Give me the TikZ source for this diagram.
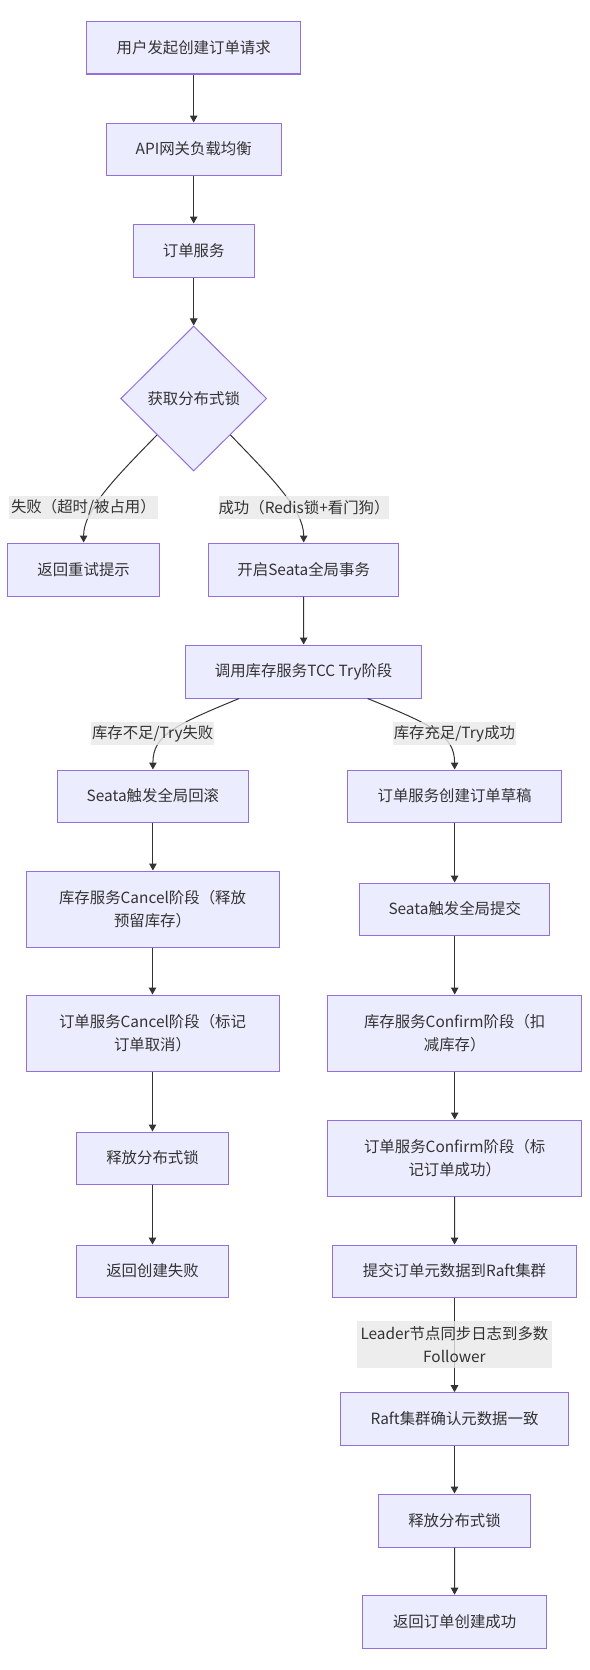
\documentclass[tikz,border=0pt]{standalone}
\usepackage{fontspec}
\setmainfont{Noto Sans CJK SC}
\usetikzlibrary{shapes.geometric,arrows.meta}
\definecolor{nodefill}{HTML}{ECECFF}
\definecolor{nodeline}{HTML}{9370DB}
\definecolor{edgecol}{HTML}{333333}
\definecolor{lblfill}{HTML}{E8E8E8}
\definecolor{txt}{HTML}{333333}
\begin{document}
\begin{tikzpicture}[x=1pt,y=-1pt,
  box/.style={draw=nodeline, fill=nodefill, line width=1pt, inner sep=0pt, text=txt,
    font=\fontsize{15.4}{23.5}\selectfont, align=center},
  dec/.style={diamond, draw=nodeline, fill=nodefill, line width=1pt, inner sep=0pt, text=txt,
    font=\fontsize{15.4}{23.5}\selectfont, align=center},
  lbl/.style={fill=lblfill, fill opacity=0.8, text opacity=1, text=txt, inner sep=0pt,
    font=\fontsize{15.4}{23.5}\selectfont, align=center},
  arr/.style={draw=edgecol, line width=1pt, -{Triangle[width=7.5pt,length=7pt]}}]
\useasboundingbox (0,0) rectangle (589,1670);

% nodes
\node[box, minimum width=214.5pt, minimum height=52pt] (n1) at (193.7,48) {用户发起创建订单请求};
\node[box, minimum width=175pt, minimum height=52pt] (n2) at (193.7,149) {API网关负载均衡};
\node[box, minimum width=121pt, minimum height=53pt] (n3) at (193.7,250.5) {订单服务};
\node[dec, minimum width=146pt, minimum height=145pt] (d) at (193.7,398.5) {获取分布式锁};
\node[box, minimum width=152pt, minimum height=53pt] (n4) at (83.6,569.5) {返回重试提示};
\node[box, minimum width=190.5pt, minimum height=53pt] (n5) at (303.7,569.5) {开启Seata全局事务};
\node[box, minimum width=236.7pt, minimum height=53pt] (n6) at (303.6,671.5) {调用库存服务TCC Try阶段};
\node[box, minimum width=191pt, minimum height=52pt] (n7) at (152.9,796) {Seata触发全局回滚};
\node[box, minimum width=214pt, minimum height=52pt] (n8) at (454.6,796) {订单服务创建订单草稿};
\node[box, minimum width=253pt, minimum height=76pt] (n9) at (152.5,909) {库存服务Cancel阶段（释放\\预留库存）};
\node[box, minimum width=190.5pt, minimum height=52pt] (n10) at (454.7,909) {Seata触发全局提交};
\node[box, minimum width=253pt, minimum height=76pt] (n11) at (152.5,1033) {订单服务Cancel阶段（标记\\订单取消）};
\node[box, minimum width=253.5pt, minimum height=76pt] (n12) at (454.7,1033) {库存服务Confirm阶段（扣\\减库存）};
\node[box, minimum width=152.5pt, minimum height=52pt] (n13) at (152.5,1158) {释放分布式锁};
\node[box, minimum width=253.5pt, minimum height=76pt] (n14) at (454.7,1158) {订单服务Confirm阶段（标\\记订单成功）};
\node[box, minimum width=152.5pt, minimum height=52pt] (n15) at (152.5,1271) {返回创建失败};
\node[box, minimum width=244pt, minimum height=52pt] (n16) at (454.5,1271) {提交订单元数据到Raft集群};
\node[box, minimum width=228.4pt, minimum height=52.6pt] (n17) at (454.5,1419) {Raft集群确认元数据一致};
\node[box, minimum width=152.4pt, minimum height=53pt] (n18) at (454.5,1520.5) {释放分布式锁};
\node[box, minimum width=184pt, minimum height=53pt] (n19) at (454.6,1621.7) {返回订单创建成功};

% edges
\draw[arr] (n1) -- (n2);
\draw[arr] (n2) -- (n3);
\draw[arr] (n3) -- (d);
\draw[arr] (d.south west) .. controls (115,478) and (83.6,510) .. (n4.north);
\draw[arr] (d.south east) .. controls (272,478) and (303.7,510) .. (n5.north);
\draw[arr] (n5) -- (n6);
\draw[arr] ([xshift=-64.5pt]n6.south) .. controls (175,725) and (152.9,735) .. (n7.north);
\draw[arr] ([xshift=64pt]n6.south) .. controls (432,725) and (454.6,735) .. (n8.north);
\draw[arr] (n7.south) -- (n9.north -| n7.south);
\draw[arr] (n9) -- (n11);
\draw[arr] (n11) -- (n13);
\draw[arr] (n13) -- (n15);
\draw[arr] (n8.south) -- (n10.north -| n8.south);
\draw[arr] (n10) -- (n12);
\draw[arr] (n12) -- (n14);
\draw[arr] (n14) -- (n16);
\draw[arr] (n16) -- (n17);
\draw[arr] (n17) -- (n18);
\draw[arr] (n18) -- (n19);

% edge labels
\node[lbl, minimum width=149pt, minimum height=23pt] (l1) at (83.4,507.5) {失败（超时/被占用）};
\node[lbl, minimum width=170pt, minimum height=23pt] (l2) at (304,507.5) {成功（Redis锁+看门狗）};
\node[lbl, minimum width=123pt, minimum height=23pt] (l3) at (152.7,733.5) {库存不足/Try失败};
\node[lbl, minimum width=123pt, minimum height=23pt] (l4) at (454.4,733.5) {库存充足/Try成功};
\node[lbl, minimum width=195pt, minimum height=47pt] (l5) at (454.4,1344.5) {Leader节点同步日志到多数\\Follower};
\end{tikzpicture}
\end{document}
